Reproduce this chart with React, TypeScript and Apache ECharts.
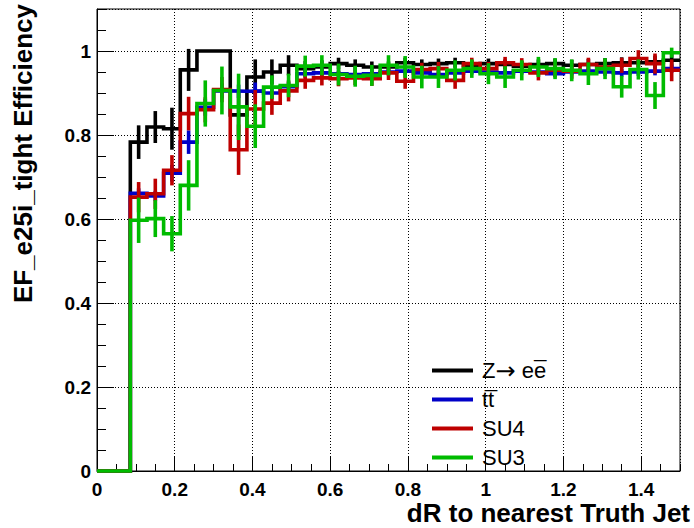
import React, { useEffect, useRef } from "react";
import * as echarts from "echarts";

// Histogram binning: 35 bins over 0 .. 1.5
const X_MIN = 0;
const X_MAX = 1.5;
const Y_MAX = 1.1;
const N_BINS = 35;
const BIN_WIDTH = (X_MAX - X_MIN) / N_BINS;
const binLowEdges = Array.from({ length: N_BINS }, (_, i) => X_MIN + i * BIN_WIDTH);

// Z -> ee
const zeeEff = [
  0, 0, 0.783, 0.819, 0.815, 0.955, 1.0, 1.0, 0.848, 0.938, 0.95, 0.966,
  0.958, 0.962, 0.97, 0.966, 0.962, 0.962, 0.972, 0.968, 0.97, 0.972, 0.966,
  0.97, 0.968, 0.964, 0.968, 0.97, 0.966, 0.968, 0.97, 0.972, 0.972, 0.974, 0.978,
];
const zeeErr = [
  0, 0, 0.04, 0.038, 0.05, 0.05, 0, 0, 0.052, 0.042, 0.03, 0.024,
  0.018, 0.016, 0.014, 0.014, 0.013, 0.013, 0.012, 0.012, 0.012, 0.012, 0.012,
  0.012, 0.012, 0.012, 0.012, 0.012, 0.013, 0.013, 0.013, 0.013, 0.014, 0.015, 0.016,
];

// t tbar
const ttEff = [
  0, 0, 0.661, 0.655, 0.709, 0.783, 0.866, 0.905, 0.904, 0.905, 0.9, 0.915,
  0.946, 0.948, 0.946, 0.944, 0.946, 0.95, 0.952, 0.948, 0.944, 0.948, 0.952,
  0.95, 0.948, 0.952, 0.95, 0.946, 0.95, 0.952, 0.95, 0.948, 0.95, 0.952, 0.958,
];
const ttErr = [
  0, 0, 0.012, 0.012, 0.02, 0.028, 0.02, 0.018, 0.016, 0.02, 0.015, 0.012,
  0.01, 0.009, 0.008, 0.008, 0.008, 0.008, 0.008, 0.008, 0.008, 0.008, 0.008,
  0.008, 0.008, 0.008, 0.008, 0.008, 0.008, 0.008, 0.009, 0.009, 0.009, 0.01, 0.01,
];

// SU4
const su4Eff = [
  0, 0, 0.652, 0.66, 0.716, 0.851, 0.86, 0.908, 0.765, 0.862, 0.876, 0.905,
  0.93, 0.936, 0.934, 0.936, 0.934, 0.948, 0.928, 0.956, 0.958, 0.93, 0.97,
  0.958, 0.972, 0.968, 0.948, 0.954, 0.952, 0.968, 0.962, 0.966, 0.982, 0.97, 0.954,
];
const su4Err = [
  0, 0, 0.036, 0.036, 0.036, 0.04, 0.03, 0.03, 0.06, 0.045, 0.028, 0.025,
  0.02, 0.018, 0.018, 0.017, 0.017, 0.017, 0.018, 0.016, 0.016, 0.02, 0.014,
  0.016, 0.014, 0.015, 0.018, 0.017, 0.018, 0.016, 0.018, 0.018, 0.02, 0.024, 0.026,
];

// SU3
const su3Eff = [
  0, 0, 0.597, 0.601, 0.565, 0.68, 0.875, 0.906, 0.867, 0.821, 0.914, 0.918,
  0.964, 0.966, 0.944, 0.94, 0.942, 0.966, 0.962, 0.938, 0.938, 0.954, 0.958,
  0.946, 0.938, 0.954, 0.962, 0.958, 0.954, 0.946, 0.958, 0.915, 0.956, 0.894, 0.996,
];
const su3Err = [
  0, 0, 0.054, 0.044, 0.042, 0.06, 0.055, 0.057, 0.079, 0.052, 0.028, 0.028,
  0.025, 0.024, 0.026, 0.025, 0.025, 0.024, 0.026, 0.027, 0.026, 0.024, 0.022,
  0.025, 0.026, 0.024, 0.024, 0.025, 0.026, 0.027, 0.025, 0.026, 0.024, 0.032, 0.012,
];

const xTickLabels = ["0", "0.2", "0.4", "0.6", "0.8", "1", "1.2", "1.4"];
const yTickLabels = ["0", "0.2", "0.4", "0.6", "0.8", "1"];

const samples = [
  { name: "Z\u2192 ee\u0305", color: "#000000", eff: zeeEff, err: zeeErr },
  { name: "tt\u0305", color: "#0000c8", eff: ttEff, err: ttErr },
  { name: "SU4", color: "#be0000", eff: su4Eff, err: su4Err },
  { name: "SU3", color: "#00bb00", eff: su3Eff, err: su3Err },
];

const LINE_W = 3.6;
const FONT = '"Liberation Sans", Arial, Helvetica, sans-serif';

function stepPoints(eff: number[]) {
  const pts = eff.map((v, i) => [binLowEdges[i], v]);
  pts.push([X_MAX, eff[eff.length - 1]]);
  return pts;
}

function errPoints(eff: number[], err: number[]) {
  return eff.map((v, i) => [binLowEdges[i] + BIN_WIDTH / 2, v, err[i]]);
}

function pickLabel(labels: string[], v: number) {
  const s = String(Number(v.toFixed(2)));
  return labels.includes(s) ? s : "";
}

// legend label: draw the arrow with a wider glyph
function legendLabel(name: string) {
  return name.includes("\u2192") ? name.replace("\u2192", "{arrow|\u2192}") : name;
}

export default function App() {
  const ref = useRef<HTMLDivElement>(null);

  useEffect(() => {
    if (!ref.current) return;
    const chart = echarts.init(ref.current, undefined, { renderer: "svg" });

    const series: any[] = [];
    samples.forEach((s, i) => {
      series.push({
        type: "line",
        name: s.name,
        data: stepPoints(s.eff),
        step: "end",
        symbol: "none",
        showSymbol: false,
        clip: false,
        z: 2 + i,
        lineStyle: { color: s.color, width: LINE_W, join: "miter", cap: "butt" },
        itemStyle: { color: s.color },
        emphasis: { disabled: true },
      });
      series.push({
        type: "custom",
        name: s.name + " errors",
        data: errPoints(s.eff, s.err),
        encode: { x: 0, y: 1 },
        z: 2 + i,
        silent: true,
        renderItem: (_params: any, api: any) => {
          const e = api.value(2);
          if (!e) return null;
          const x = api.value(0);
          const v = api.value(1);
          const hi = api.coord([x, v + e]);
          const lo = api.coord([x, v - e]);
          return {
            type: "line",
            shape: { x1: hi[0], y1: hi[1], x2: lo[0], y2: lo[1] },
            style: { stroke: s.color, lineWidth: LINE_W },
          };
        },
      });
    });

    chart.setOption({
      animation: false,
      backgroundColor: "#ffffff",
      grid: {
        left: 97,
        right: 14,
        top: 9,
        bottom: 57,
        show: true,
        borderColor: "#000",
        borderWidth: 1,
        backgroundColor: "transparent",
      },
      xAxis: [
        {
          type: "value",
          min: X_MIN,
          max: X_MAX,
          interval: 0.2,
          position: "bottom",
          axisLine: { show: true, onZero: false, lineStyle: { color: "#000", width: 1 } },
          axisTick: { show: true, inside: true, length: 14, lineStyle: { color: "#000", width: 1 } },
          axisLabel: {
            formatter: (v: number) => pickLabel(xTickLabels, v),
            fontSize: 19,
            fontWeight: "bold",
            fontFamily: FONT,
            color: "#000",
            margin: 9,
            showMaxLabel: false,
          },
          splitLine: { show: true, lineStyle: { type: [1, 2], color: "#000", width: 1 } },
        },
        {
          type: "value",
          min: X_MIN,
          max: X_MAX,
          interval: 0.05,
          position: "bottom",
          axisLine: { show: false },
          axisTick: { show: true, inside: true, length: 7, lineStyle: { color: "#000", width: 1 } },
          axisLabel: { show: false },
          splitLine: { show: false },
        },
      ],
      yAxis: [
        {
          type: "value",
          min: 0,
          max: Y_MAX,
          interval: 0.2,
          position: "left",
          axisLine: { show: true, onZero: false, lineStyle: { color: "#000", width: 1 } },
          axisTick: { show: true, inside: true, length: 17, lineStyle: { color: "#000", width: 1 } },
          axisLabel: {
            formatter: (v: number) => pickLabel(yTickLabels, v),
            fontSize: 19,
            fontWeight: "bold",
            fontFamily: FONT,
            color: "#000",
            margin: 6,
            showMaxLabel: false,
          },
          splitLine: { show: true, lineStyle: { type: [1, 2], color: "#000", width: 1 } },
        },
        {
          type: "value",
          min: 0,
          max: Y_MAX,
          interval: 0.05,
          position: "left",
          axisLine: { show: false },
          axisTick: { show: true, inside: true, length: 9, lineStyle: { color: "#000", width: 1 } },
          axisLabel: { show: false },
          splitLine: { show: false },
        },
      ],
      legend: {
        data: samples.map((s) => s.name),
        orient: "vertical",
        left: 432,
        top: 356,
        padding: 0,
        itemWidth: 41,
        itemHeight: 4,
        itemGap: 0,
        icon: "rect",
        selectedMode: false,
        formatter: legendLabel,
        textStyle: {
          fontSize: 22,
          fontFamily: FONT,
          color: "#000",
          lineHeight: 29,
          padding: [0, 0, 0, 4],
          rich: {
            arrow: {
              fontSize: 24,
              fontFamily: '"DejaVu Sans", sans-serif',
              color: "#000",
              lineHeight: 29,
            },
          },
        },
      },
      graphic: [
        {
          type: "text",
          x: 690,
          y: 513,
          style: {
            text: "dR to nearest Truth Jet",
            font: `bold 26px ${FONT}`,
            fill: "#000",
            align: "right",
            verticalAlign: "middle",
            textAlign: "right",
            textVerticalAlign: "middle",
          },
        },
        {
          type: "text",
          x: 23,
          y: 4,
          rotation: Math.PI / 2,
          style: {
            text: "EF_e25i_tight Efficiency",
            font: `bold 26px ${FONT}`,
            fill: "#000",
            align: "right",
            verticalAlign: "middle",
            textAlign: "right",
            textVerticalAlign: "middle",
          },
        },
      ],
      series,
    });

    return () => chart.dispose();
  }, []);

  return (
    <div
      ref={ref}
      style={{ position: "absolute", left: 0, top: 0, width: 694, height: 528, background: "#fff" }}
    />
  );
}
